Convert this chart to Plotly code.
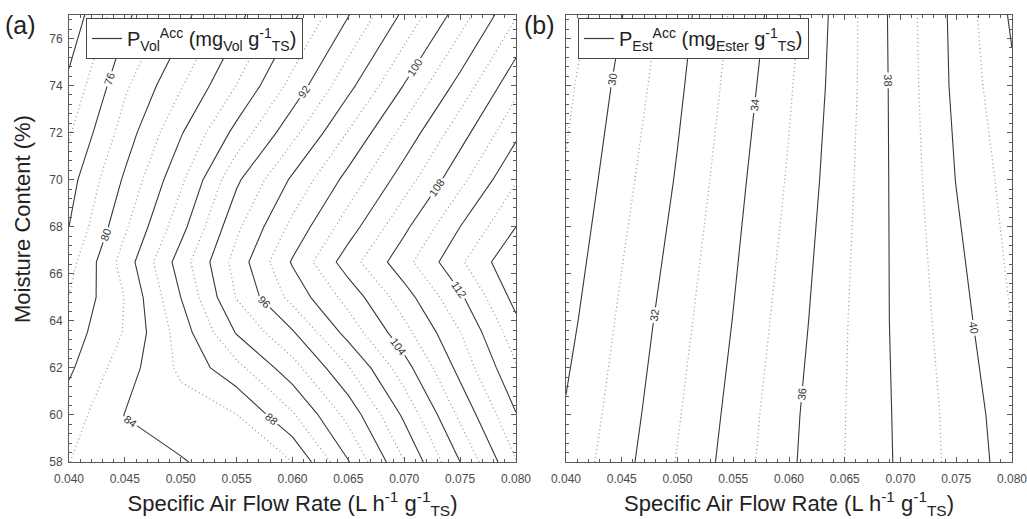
import plotly.graph_objects as go

# ---------------- data ----------------
x_flow = [0.040, 0.045, 0.050, 0.055, 0.060, 0.065, 0.070, 0.075, 0.080]

# Panel (a): P_Vol^Acc
y_moist_a = [58, 60, 62, 63.5, 65, 66.5, 68, 70, 72, 74, 77]
z_vol_58 = [81.98, 82.92, 83.85, 84.91, 86.00, 91.88, 97.94, 104.00, 109.90]
z_vol_60 = [80.97, 84.06, 85.01, 85.96, 89.74, 94.67, 100.39, 106.44, 111.89]
z_vol_62 = [79.66, 83.07, 86.42, 89.40, 93.21, 97.86, 103.18, 108.65, 113.81]
z_vol_635 = [78.95, 82.15, 86.92, 92.15, 95.78, 100.76, 105.33, 109.95, 115.18]
z_vol_65 = [78.06, 82.06, 88.00, 94.12, 98.67, 102.75, 107.11, 111.64, 116.70]
z_vol_665 = [77.20, 82.91, 88.94, 94.82, 100.21, 105.06, 109.27, 113.67, 117.83]
z_vol_68 = [76.00, 81.68, 87.29, 93.56, 98.56, 103.06, 107.55, 112.00, 116.00]
z_vol_70 = [75.18, 80.31, 85.60, 91.63, 96.35, 100.70, 105.04, 109.42, 113.83]
z_vol_72 = [73.78, 78.93, 83.80, 88.65, 93.37, 98.14, 102.67, 107.18, 111.57]
z_vol_74 = [72.44, 77.64, 81.81, 86.05, 90.67, 95.41, 100.09, 104.72, 109.41]
z_vol_77 = [70.63, 75.51, 79.16, 83.30, 87.57, 91.91, 96.45, 101.00, 105.84]
z_vol = [z_vol_58, z_vol_60, z_vol_62, z_vol_635, z_vol_65, z_vol_665,
         z_vol_68, z_vol_70, z_vol_72, z_vol_74, z_vol_77]

# Panel (b): P_Est^Acc
y_moist_b = [58, 60, 64, 70, 74, 77]
z_est_58 = [30.28, 31.67, 33.06, 34.44, 35.83, 37.00, 38.16, 39.30, 40.46]
z_est_60 = [30.09, 31.50, 32.91, 34.31, 35.76, 36.98, 38.19, 39.34, 40.58]
z_est_64 = [29.67, 31.19, 32.61, 34.03, 35.50, 36.92, 38.27, 39.56, 41.03]
z_est_70 = [29.10, 30.66, 32.10, 33.65, 35.11, 36.73, 38.34, 40.03, 41.43]
z_est_74 = [28.76, 30.29, 31.80, 33.36, 34.88, 36.59, 38.40, 40.24, 41.83]
z_est_77 = [28.40, 29.97, 31.58, 33.16, 34.66, 36.56, 38.44, 40.30, 42.15]
z_est = [z_est_58, z_est_60, z_est_64, z_est_70, z_est_74, z_est_77]

x_ticks = [0.040, 0.045, 0.050, 0.055, 0.060, 0.065, 0.070, 0.075, 0.080]
y_ticks = [58, 60, 62, 64, 66, 68, 70, 72, 74, 76]

# ---------------- styling ----------------
FONT = "Arial, Liberation Sans, sans-serif"
SOLID = "#383838"
DOT = "#9a9a9a"
AXC = "#5a5a5a"

W, H = 1027, 519
def px_x(p):
    return p / W
def px_y(p):
    return 1 - p / H

fig = go.Figure()

def add_pair(xa, ya, y, z, s_start, s_end, s_size, d_start, d_end):
    fig.add_trace(go.Contour(
        x=x_flow, y=y, z=z, xaxis=xa, yaxis=ya,
        autocontour=False,
        contours=dict(start=d_start, end=d_end, size=s_size,
                      coloring="lines", showlabels=False),
        line=dict(color=DOT, width=1.3, dash="1px,3px", smoothing=0),
        colorscale=[[0, DOT], [1, DOT]], showscale=False,
        hoverinfo="skip", showlegend=False))
    fig.add_trace(go.Contour(
        x=x_flow, y=y, z=z, xaxis=xa, yaxis=ya,
        autocontour=False,
        contours=dict(start=s_start, end=s_end, size=s_size,
                      coloring="lines", showlabels=True,
                      labelfont=dict(size=11, color="#333333", family=FONT),
                      labelformat="d"),
        line=dict(color=SOLID, width=1.1, smoothing=0),
        colorscale=[[0, SOLID], [1, SOLID]], showscale=False,
        hoverinfo="skip", showlegend=False))

add_pair("x", "y", y_moist_a, z_vol, 72, 116, 4, 74, 118)
add_pair("x2", "y2", y_moist_b, z_est, 30, 42, 2, 29, 41)

# legend entries
fig.add_trace(go.Scatter(
    x=[None], y=[None], mode="lines", xaxis="x", yaxis="y",
    line=dict(color=SOLID, width=1.2), showlegend=True,
    name="P<sub>Vol</sub><sup>Acc</sup> (mg<sub>Vol</sub> g<sup>-1</sup><sub>TS</sub>)",
    legend="legend"))
fig.add_trace(go.Scatter(
    x=[None], y=[None], mode="lines", xaxis="x2", yaxis="y2",
    line=dict(color=SOLID, width=1.2), showlegend=True,
    name="P<sub>Est</sub><sup>Acc</sup> (mg<sub>Ester</sub> g<sup>-1</sup><sub>TS</sub>)",
    legend="legend2"))

xt_title = "Specific Air Flow Rate (L h<sup>-1</sup> g<sup>-1</sup><sub>TS</sub>)"

def xaxis(domain, anchor):
    return dict(domain=domain, anchor=anchor, range=[0.040, 0.080],
                tickvals=x_ticks, tickformat=".3f",
                ticks="inside", ticklen=5, tickcolor=AXC,
                ticklabelstandoff=6, ticklabeloverflow="allow",
                minor=dict(dtick=0.001, tick0=0.040, ticks="inside",
                           ticklen=3, tickcolor=AXC, showgrid=False),
                showline=True, linecolor=AXC, linewidth=1, mirror="allticks",
                showgrid=False, zeroline=False, automargin=False,
                tickfont=dict(family=FONT, size=12, color="#4a4a4a"),
                title=dict(text=xt_title, standoff=10,
                           font=dict(family=FONT, size=22, color="#222")))

def yaxis(domain, anchor, labels):
    return dict(domain=domain, anchor=anchor, range=[58, 77],
                tickvals=y_ticks, showticklabels=labels,
                ticks="inside", ticklen=5, tickcolor=AXC,
                ticklabelstandoff=3, ticklabeloverflow="allow",
                minor=dict(dtick=0.4, tick0=58, ticks="inside",
                           ticklen=3, tickcolor=AXC, showgrid=False),
                showline=True, linecolor=AXC, linewidth=1, mirror="allticks",
                showgrid=False, zeroline=False, automargin=False,
                tickfont=dict(family=FONT, size=12, color="#4a4a4a"))

legend_style = dict(xanchor="left", yanchor="top",
                    bgcolor="white", bordercolor="#444", borderwidth=1,
                    font=dict(family=FONT, size=20, color="#222"),
                    itemwidth=30, tracegroupgap=0)

ydom = [px_y(462), px_y(15)]
fig.update_layout(
    width=W, height=H,
    margin=dict(l=0, r=0, t=0, b=0, autoexpand=False),
    paper_bgcolor="white", plot_bgcolor="white",
    font=dict(family=FONT),
    showlegend=True,
    xaxis=xaxis([px_x(69), px_x(516)], "y"),
    yaxis=yaxis(ydom, "x", True),
    xaxis2=xaxis([px_x(566), px_x(1012)], "y2"),
    yaxis2=yaxis(ydom, "x2", False),
    legend=dict(x=px_x(86), y=px_y(18), **legend_style),
    legend2=dict(x=px_x(578), y=px_y(18), **legend_style),
    annotations=[
        dict(text="(a)", x=px_x(3), y=px_y(9), xref="paper", yref="paper",
             xanchor="left", yanchor="top", showarrow=False,
             font=dict(family=FONT, size=25, color="#222")),
        dict(text="(b)", x=px_x(522), y=px_y(9), xref="paper", yref="paper",
             xanchor="left", yanchor="top", showarrow=False,
             font=dict(family=FONT, size=25, color="#222")),
        dict(text="Moisture Content (%)", textangle=-90,
             x=px_x(22), y=px_y(219), xref="paper", yref="paper",
             xanchor="center", yanchor="middle", showarrow=False,
             font=dict(family=FONT, size=22, color="#222")),
    ],
)

fig.write_html("out.html")
